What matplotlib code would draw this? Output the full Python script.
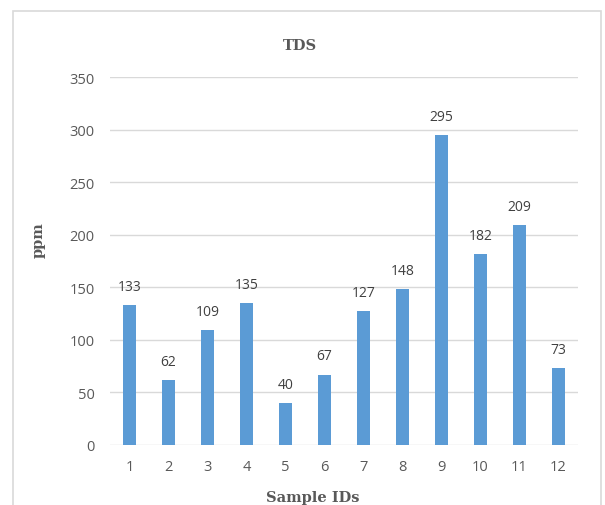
import matplotlib
matplotlib.use("Agg")
import matplotlib.pyplot as plt
from matplotlib.patches import Rectangle

# Total dissolved solids per sample
sample_ids = ["1", "2", "3", "4", "5", "6", "7", "8", "9", "10", "11", "12"]
tds_ppm = [133, 62, 109, 135, 40, 67, 127, 148, 295, 182, 209, 73]
y_ticks = [0, 50, 100, 150, 200, 250, 300, 350]

W, H = 605, 506
fig = plt.figure(figsize=(W / 100, H / 100), dpi=100)
fig.patch.set_facecolor("white")

text_gray = "#595959"
grid_gray = "#D9D9D9"
bar_blue = "#5B9BD5"
label_font = ["Open Sans", "DejaVu Sans"]
heading_font = ["DejaVu Serif"]

# Outer chart-area border
fig.patches.append(Rectangle((13 / W, 1 - 530 / H), (601 - 13) / W, (530 - 12) / H,
                             transform=fig.transFigure, fill=False,
                             edgecolor="#D9D9D9", linewidth=1.2))

ax = fig.add_axes([110 / W, 1 - 446 / H, (578 - 110) / W, (446 - 78) / H])
x = list(range(len(sample_ids)))
ax.bar(x, tds_ppm, width=0.32, color=bar_blue, zorder=3)

ax.set_xlim(-0.5, len(sample_ids) - 0.5)
ax.set_ylim(0, 350)
ax.set_yticks(y_ticks)
ax.set_xticks(x)
ax.set_xticklabels(sample_ids)

for s in ax.spines.values():
    s.set_visible(False)
ax.yaxis.grid(True, color=grid_gray, linewidth=1)
ax.set_axisbelow(True)
ax.tick_params(axis="both", length=0, colors=text_gray, labelsize=10.5)
ax.tick_params(axis="y", pad=11)
ax.tick_params(axis="x", pad=10)
for lbl in ax.get_xticklabels() + ax.get_yticklabels():
    lbl.set_family(label_font)

for xi, v in zip(x, tds_ppm):
    ax.annotate(str(v), (xi, v), xytext=(0, 8), textcoords="offset points",
                ha="center", va="bottom", fontsize=10, color="#404040",
                family=label_font)

fig.text(300 / W, 1 - 46 / H, "TDS", ha="center", va="center",
         fontsize=10.5, fontweight="bold", color=text_gray, family=heading_font)
fig.text(39 / W, 1 - 240 / H, "ppm", ha="center", va="center", rotation=90,
         fontsize=10.5, fontweight="bold", color=text_gray, family=heading_font)
fig.text(313 / W, 1 - 498 / H, "Sample IDs", ha="center", va="center",
         fontsize=10.5, fontweight="bold", color=text_gray, family=heading_font)

fig.savefig("out.png", dpi=100, facecolor="white")
